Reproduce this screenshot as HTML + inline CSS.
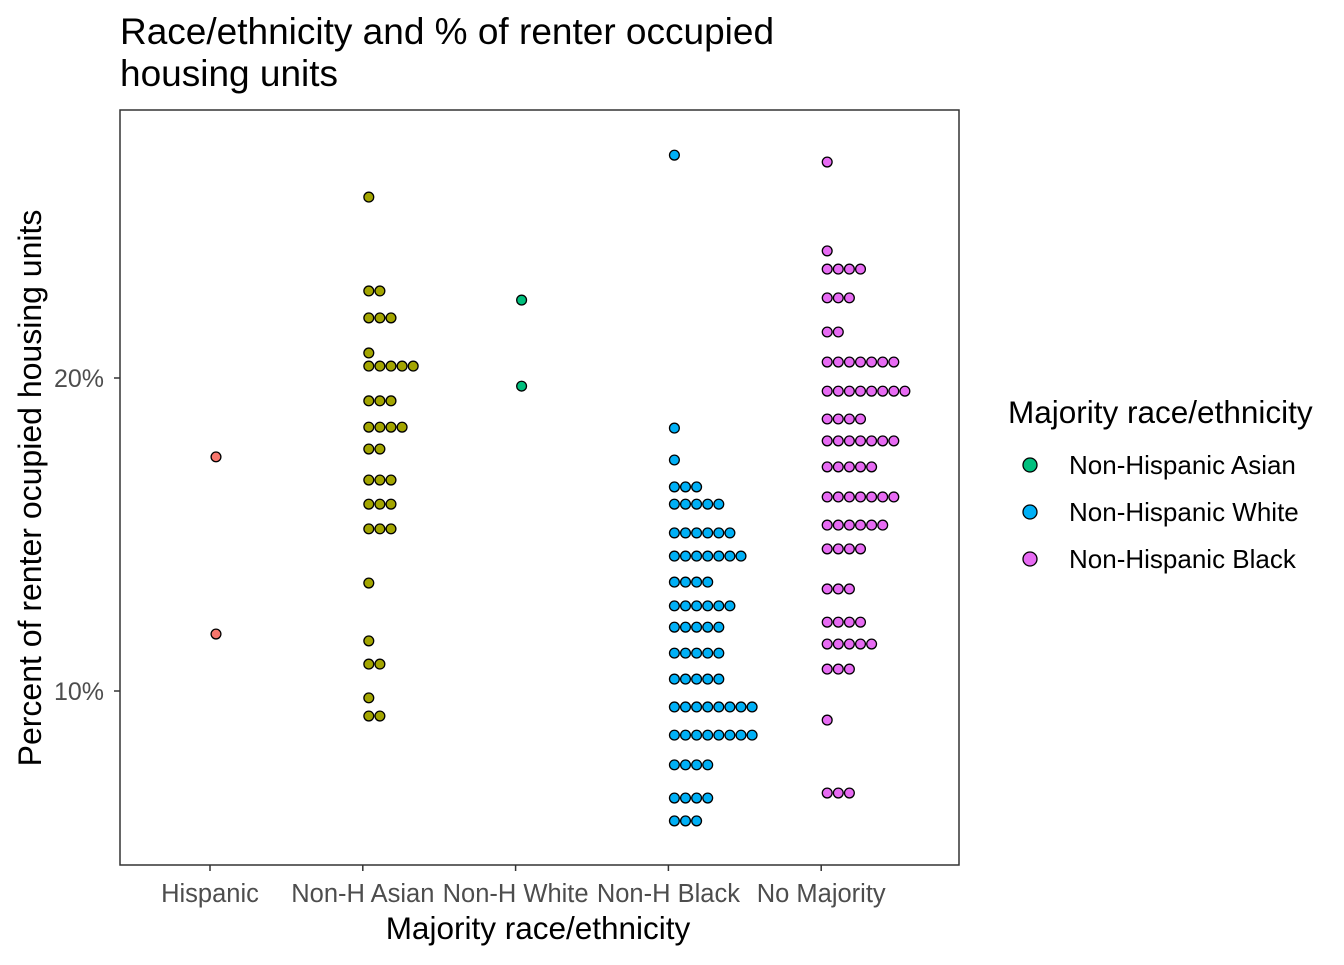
<!DOCTYPE html>
<html><head><meta charset="utf-8"><style>
body{margin:0;background:#fff;font-family:"Liberation Sans",Arial,sans-serif;}
svg text{font-family:"Liberation Sans",Arial,sans-serif;}
</style></head><body>
<svg id="c" width="1344" height="960" xmlns="http://www.w3.org/2000/svg">
<rect width="1344" height="960" fill="#fff"/>
<text x="120" y="44" font-size="37" fill="#000">Race/ethnicity and % of renter occupied</text>
<text x="120" y="86" font-size="37" fill="#000">housing units</text>
<rect x="120" y="110" width="839" height="755" fill="none" stroke="#333" stroke-width="1.5"/>
<g id="axes"></g>
<g id="dots"></g>
<text x="538" y="939" font-size="31.5" text-anchor="middle" fill="#000">Majority race/ethnicity</text>
<text transform="translate(41,488) rotate(-90)" font-size="32" text-anchor="middle" fill="#000">Percent of renter ocupied housing units</text>
<text x="1008" y="423" font-size="31.5" fill="#000">Majority race/ethnicity</text>
<g id="legend"></g>
</svg>
<script>
const categories=["Hispanic","Non-H Asian","Non-H White","Non-H Black","No Majority"];
const colors=["#F8766D","#A3A500","#00BF7D","#00B0F6","#E76BF3"];
const yTicks=[10,20];
const hispVals=[17.48,11.82];
const hispCounts=[1,1];
const asianVals=[25.78,22.78,21.92,20.80,20.38,19.27,18.43,17.73,16.74,15.97,15.18,13.45,11.60,10.86,9.78,9.20];
const asianCounts=[1,2,3,1,5,3,4,2,3,3,3,1,1,2,1,2];
const whiteVals=[22.49,19.74];
const whiteCounts=[1,1];
const blackVals=[27.12,18.40,17.38,16.52,15.97,15.05,14.31,13.48,12.72,12.04,11.21,10.38,9.49,8.59,7.64,6.58,5.85];
const blackCounts=[1,1,1,3,5,6,7,4,6,5,5,5,8,8,4,4,3];
const nomajVals=[26.90,24.06,23.48,22.56,21.47,20.51,19.58,18.69,17.99,17.16,16.20,15.30,14.54,13.26,12.20,11.50,10.70,9.07,6.74];
const nomajCounts=[1,1,4,3,2,7,8,4,7,5,7,6,4,3,4,5,3,1,3];
const legendLabels=["Non-Hispanic Asian","Non-Hispanic White","Non-Hispanic Black"];
const legendColors=["#00BF7D","#00B0F6","#E76BF3"];

const NS="http://www.w3.org/2000/svg";
function yScale(v){return 378-(v-20)*31.3;}
function xScale(i){return 210+i*152.8;}
function mk(t,a,p){const e=document.createElementNS(NS,t);for(const k in a)e.setAttribute(k,a[k]);p.appendChild(e);return e;}
const ax=document.getElementById('axes');
yTicks.forEach(t=>{
  const y=yScale(t);
  const l=mk('line',{x1:114,x2:120,y1:y,y2:y,stroke:'#333','stroke-width':1.5},ax);
  
  
  const tx=mk('text',{x:104,y:y+9,'font-size':25,fill:'#4d4d4d','text-anchor':'end'},ax);
  tx.textContent=t+'%';
  
  
});
categories.forEach((c,i)=>{
  const x=xScale(i);
  const l=mk('line',{x1:x,x2:x,y1:865,y2:871,stroke:'#333','stroke-width':1.5},ax);
  
  
  const tx=mk('text',{x:x,y:902,'font-size':25.5,fill:'#4d4d4d','text-anchor':'middle'},ax);
  tx.textContent=c;
  
  
});
const series=[[hispVals,hispCounts],[asianVals,asianCounts],[whiteVals,whiteCounts],[blackVals,blackCounts],[nomajVals,nomajCounts]];
const dg=document.getElementById('dots');
series.forEach((s,i)=>{
  s[0].forEach((v,j)=>{
    for(let k=0;k<s[1][j];k++){
      const d=mk('circle',{cx:xScale(i)+6+k*11.1,cy:yScale(v),r:4.9,fill:colors[i],stroke:'#000','stroke-width':1.3},dg);
      
      
    }
  });
});
const lg=document.getElementById('legend');
legendLabels.forEach((t,i)=>{
  const y=465+i*47;
  const c=mk('circle',{cx:1030,cy:y,r:7,fill:legendColors[i],stroke:'#000','stroke-width':1.3},lg);
  
  
  const tx=mk('text',{x:1069,y:y+9,'font-size':26,fill:'#000'},lg);
  tx.textContent=t;
  
  
});
</script>
</body></html>
